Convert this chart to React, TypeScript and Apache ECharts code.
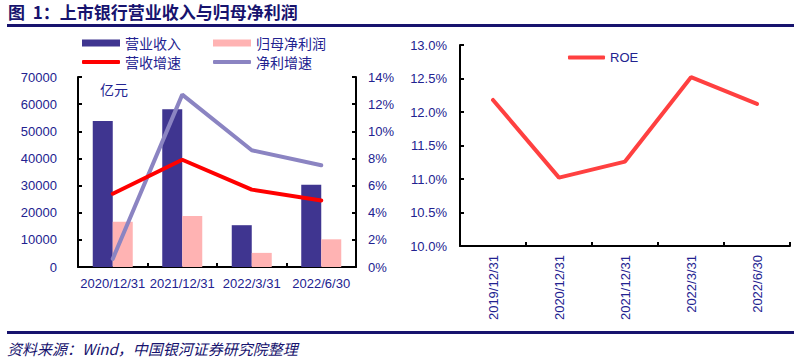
import React, { useEffect, useRef } from "react";
import * as echarts from "echarts";

const categories = ["2020/12/31", "2021/12/31", "2022/3/31", "2022/6/30"];
const revenue = [53800, 58100, 15400, 30300];
const netProfit = [16700, 18800, 5200, 10200];
const revenueGrowth = [5.4, 7.9, 5.7, 4.9];
const profitGrowth = [0.6, 12.7, 8.6, 7.5];

const roeCategories = ["2019/12/31", "2020/12/31", "2021/12/31", "2022/3/31", "2022/6/30"];
const roe = [12.18, 11.02, 11.26, 12.52, 12.12];

const NAVY = "#3f3590";
const PINK = "#ffb3b3";
const RED = "#ff0000";
const PURPLE = "#8b84c2";
const ROE_RED = "#ff4040";
const TEXT = "#222290";
const RULE = "#17136e";
const NUM_FONT = "'Liberation Sans', Arial, sans-serif";
const CJK_FONT = "'Noto Sans CJK SC', sans-serif";

const axisLine = { show: true, lineStyle: { color: "#000", width: 2 } };
const axisTick = { show: true, inside: true, length: 4, lineStyle: { color: "#000", width: 2 } };
const axisLabel = (extra: any) => ({
  color: TEXT,
  fontSize: 13,
  fontFamily: NUM_FONT,
  ...extra,
});

export default function App() {
  const ref = useRef<HTMLDivElement>(null);
  useEffect(() => {
    if (!ref.current) return;
    const chart = echarts.init(ref.current, null, { renderer: "svg" });
    const legendText = { color: TEXT, fontSize: 14, fontFamily: CJK_FONT };
    const mkLegend = (name: string, left: number, top: number, icon: string, h: number) => ({
      data: [name],
      left,
      top,
      icon,
      itemWidth: 38,
      itemHeight: h,
      selectedMode: false,
      textStyle: legendText,
      padding: 0,
    });
    chart.setOption({
      animation: false,
      backgroundColor: "#fff",
      grid: [
        { left: 78, right: 438, top: 77, bottom: 94 },
        { left: 460, right: 4, top: 45, bottom: 115 },
      ],
      legend: [
        mkLegend("营业收入", 82, 36, "rect", 7),
        mkLegend("归母净利润", 213, 36, "rect", 7),
        mkLegend("营收增速", 82, 55, "roundRect", 4),
        mkLegend("净利增速", 213, 55, "roundRect", 4),
        {
          data: ["ROE"],
          left: 568,
          top: 51,
          icon: "roundRect",
          itemWidth: 37,
          itemHeight: 4,
          selectedMode: false,
          padding: 0,
          textStyle: { color: TEXT, fontSize: 13, fontFamily: NUM_FONT },
        },
      ],
      xAxis: [
        {
          type: "category",
          gridIndex: 0,
          data: categories,
          axisLine,
          axisTick,
          axisLabel: axisLabel({ interval: 0, margin: 10 }),
        },
        {
          type: "category",
          gridIndex: 1,
          data: roeCategories,
          axisLine,
          axisTick,
          axisLabel: axisLabel({ interval: 0, rotate: 90, margin: 9 }),
        },
      ],
      yAxis: [
        {
          type: "value",
          gridIndex: 0,
          min: 0,
          max: 70000,
          interval: 10000,
          axisLine,
          axisTick,
          splitLine: { show: false },
          axisLabel: axisLabel({ margin: 21, formatter: (v: number) => String(v) }),
        },
        {
          type: "value",
          gridIndex: 0,
          position: "right",
          min: 0,
          max: 14,
          interval: 2,
          axisLine,
          axisTick,
          splitLine: { show: false },
          axisLabel: axisLabel({ margin: 12, formatter: "{value}%" }),
        },
        {
          type: "value",
          gridIndex: 1,
          min: 10,
          max: 13,
          interval: 0.5,
          axisLine,
          axisTick,
          splitLine: { show: false },
          axisLabel: axisLabel({ margin: 13, formatter: (v: number) => v.toFixed(1) + "%" }),
        },
      ],
      series: [
        {
          name: "营业收入",
          type: "bar",
          xAxisIndex: 0,
          yAxisIndex: 0,
          data: revenue,
          barWidth: 20,
          barGap: "0%",
          itemStyle: { color: NAVY },
        },
        {
          name: "归母净利润",
          type: "bar",
          xAxisIndex: 0,
          yAxisIndex: 0,
          data: netProfit,
          barWidth: 20,
          barGap: "0%",
          itemStyle: { color: PINK },
        },
        {
          name: "净利增速",
          type: "line",
          xAxisIndex: 0,
          yAxisIndex: 1,
          data: profitGrowth,
          symbol: "none",
          lineStyle: { color: PURPLE, width: 4, cap: "round" },
          itemStyle: { color: PURPLE },
        },
        {
          name: "营收增速",
          type: "line",
          xAxisIndex: 0,
          yAxisIndex: 1,
          data: revenueGrowth,
          symbol: "none",
          lineStyle: { color: RED, width: 4, cap: "round" },
          itemStyle: { color: RED },
        },
        {
          name: "ROE",
          type: "line",
          xAxisIndex: 1,
          yAxisIndex: 2,
          data: roe,
          symbol: "none",
          lineStyle: { color: ROE_RED, width: 4, cap: "round" },
          itemStyle: { color: ROE_RED },
        },
      ],
      graphic: [
        {
          type: "text",
          left: 8,
          top: 3,
          style: {
            text: "图  1：上市银行营业收入与归母净利润",
            font: `bold 17px ${CJK_FONT}`,
            fill: RULE,
          },
        },
        {
          type: "rect",
          shape: { x: 7, y: 24, width: 787, height: 3 },
          style: { fill: RULE },
        },
        {
          type: "rect",
          shape: { x: 7, y: 331, width: 787, height: 3 },
          style: { fill: RULE },
        },
        {
          type: "text",
          left: 100,
          top: 82,
          style: {
            text: "亿元",
            font: `14px ${CJK_FONT}`,
            fill: TEXT,
          },
        },
        {
          type: "text",
          left: 7,
          top: 341,
          style: {
            text: "资料来源：Wind，中国银河证券研究院整理",
            font: `italic 15px ${CJK_FONT}`,
            fill: RULE,
          },
        },
      ],
    });
    return () => chart.dispose();
  }, []);
  return (
    <div
      ref={ref}
      style={{ position: "fixed", left: 0, top: 0, width: 794, height: 361 }}
    />
  );
}
